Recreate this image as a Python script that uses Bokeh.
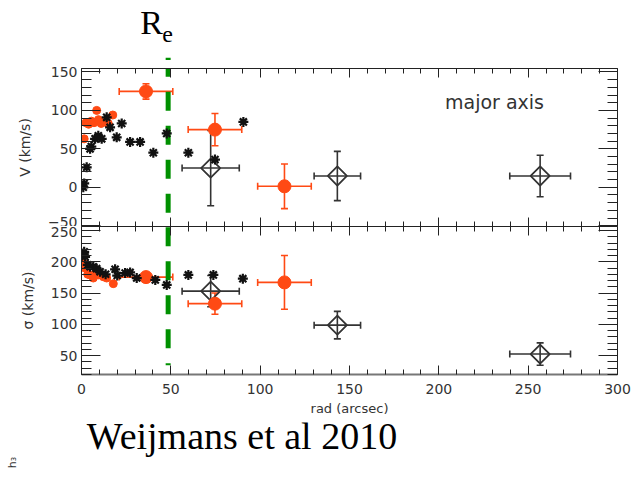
import numpy as np
from bokeh.plotting import figure
from bokeh.models import (ColumnDataSource, Whisker, TeeHead, LinearAxis, Range1d,
                          FixedTicker, Label)
from bokeh.layouts import column, row
from bokeh.embed import file_html
from bokeh.resources import INLINE

# ---------------- data ----------------
r_eff = 48.5

# top panel: rotation velocity V (km/s), major axis
v_star_r = [1.0, 1.5, 2.9, 4.8, 5.5, 7.6, 9.4, 11.3, 14.1, 16.0, 19.7, 22.5, 27.2, 32.8, 40.2, 47.7, 59.8, 74.7, 90.6]
v_star_v = [0, 5, 26, 50, 53, 63, 67, 63, 91, 78, 65, 83, 59, 59, 45, 70, 45, 36, 85]

v_red_r = [1.5, 2.5, 4.0, 5.5, 7.0, 8.5, 9.5, 11.0, 13.0, 15.0, 17.5]
v_red_v = [63, 84, 82, 86, 84, 100, 88, 83, 85, 83, 94]

v_big_r = [36.1, 74.7, 113.6]
v_big_v = [124.7, 75.0, 1.3]
v_big_rerr = [15, 15, 15]
v_big_verr = [10, 21, 29]

v_dia_r = [72.3, 143.2, 256.7]
v_dia_v = [25.0, 14.7, 14.7]
v_dia_rerr = [16, 13, 17]
v_dia_verr = [49, 32, 27]

# bottom panel: velocity dispersion sigma (km/s)
s_star_r = [1.5, 2.0, 3.5, 4.8, 6.6, 8.5, 10.4, 13.5, 18.8, 20.0, 24.4, 27.2, 30.9, 41.3, 47.7, 59.8, 73.8, 90.3]
s_star_s = [216, 208, 195, 192, 192, 189, 184, 180, 188, 178, 182, 183, 174, 171, 163, 179, 179, 173]

s_red_r = [1.0, 2.0, 3.5, 4.8, 6.6, 8.5, 9.4, 12.2, 14.1, 17.8]
s_red_s = [198, 190, 180, 179, 174, 187, 179, 176, 174, 165]

s_big_r = [36.1, 74.7, 113.6]
s_big_s = [175.5, 133.0, 167.0]
s_big_rerr = [15, 15, 15]
s_big_serr = [4, 17, 43]

s_dia_r = [72.3, 143.2, 256.7]
s_dia_s = [153.0, 98.6, 52.3]
s_dia_rerr = [16, 13, 17]
s_dia_serr = [25, 22, 18]

x_ticks = [0, 50, 100, 150, 200, 250, 300]
v_ticks = [-50, 0, 50, 100, 150]
s_ticks = [50, 100, 150, 200, 250]

# ---------------- styling ----------------
RED = "#ff4a14"
BLK = "#111111"
DIA = "#333333"
GREEN = "#009000"
AX = "#222222"
TICKFONT = "DejaVu Sans"
BASE_SHIFT = 0.37   # empirical: label anchor sits this many ems above the alphabetic baseline

W = 635
BL, BR = 81, 18
HEAD_H = 60      # header strip height (page y 0..60)
TOP_Y0 = 68      # page y of top frame edge
SPLIT = 226      # page y of panel boundary
BOT_Y1 = 376     # page y of bottom frame edge
FOOT_Y0 = 418    # page y where the caption strip starts
H = 480

xr = Range1d(0, 300)
v_range = Range1d(-51, 154.5)
s_range = Range1d(19.6, 256.5)


def make_fig(height, yr, btop, bbottom, bl=BL, br=BR, x_range=xr):
    p = figure(width=W, height=height, x_range=x_range, y_range=yr, title=None,
               output_backend="svg", toolbar_location=None,
               x_axis_location=None, y_axis_location=None,
               min_border_left=bl, min_border_right=br,
               min_border_top=btop, min_border_bottom=bbottom)
    p.outline_line_color = None
    p.background_fill_color = "white"
    p.border_fill_color = "white"
    p.grid.grid_line_color = None
    return p


def hide_labels(ax):
    ax.major_label_text_color = None
    ax.major_label_text_font_size = "1px"
    ax.major_label_standoff = 0


def y_axis(ticks, lo, hi, label, side):
    ax = LinearAxis(ticker=FixedTicker(ticks=ticks, minor_ticks=list(range(lo, hi + 1, 10))),
                    major_tick_in=19, major_tick_out=0, minor_tick_in=10, minor_tick_out=0,
                    axis_line_color=AX, major_tick_line_color=AX, minor_tick_line_color=AX)
    if side == "left":
        ax.axis_label = label
        ax.axis_label_text_font = TICKFONT
        ax.axis_label_text_font_size = "14px"
        ax.axis_label_text_font_style = "normal"
        ax.axis_label_text_color = "#333333"
        ax.axis_label_standoff = 12
        ax.major_label_text_font = TICKFONT
        ax.major_label_text_font_size = "14px"
        ax.major_label_text_color = "#333333"
        ax.major_label_standoff = 4
    else:
        hide_labels(ax)
    return ax


def x_axis(show_labels):
    ax = LinearAxis(ticker=FixedTicker(ticks=x_ticks, minor_ticks=list(range(0, 301, 10))),
                    major_tick_in=9, major_tick_out=0, minor_tick_in=5, minor_tick_out=0,
                    axis_line_color=AX, major_tick_line_color=AX, minor_tick_line_color=AX)
    if show_labels:
        ax.axis_label = "rad (arcsec)"
        ax.axis_label_text_font = TICKFONT
        ax.axis_label_text_font_size = "13px"
        ax.axis_label_text_font_style = "normal"
        ax.axis_label_text_color = "#333333"
        ax.axis_label_standoff = 4
        ax.major_label_text_font = TICKFONT
        ax.major_label_text_font_size = "14px"
        ax.major_label_text_color = "#333333"
        ax.major_label_standoff = 9
        ax.axis_line_color = "#777777"
        ax.axis_line_width = 2
    else:
        hide_labels(ax)
    return ax


def add_errbars(p, xs, ys, xerr, yerr, color):
    src = ColumnDataSource(dict(
        x=xs, y=ys,
        xl=[a - b for a, b in zip(xs, xerr)], xu=[a + b for a, b in zip(xs, xerr)],
        yl=[a - b for a, b in zip(ys, yerr)], yu=[a + b for a, b in zip(ys, yerr)]))
    for dim, base, lo, up in (("height", "x", "yl", "yu"), ("width", "y", "xl", "xu")):
        w = Whisker(source=src, base=base, lower=lo, upper=up, dimension=dim,
                    line_color=color, line_width=1.6,
                    lower_head=TeeHead(size=7, line_color=color, line_width=1.6),
                    upper_head=TeeHead(size=7, line_color=color, line_width=1.6))
        p.add_layout(w)
    return src


def draw_panel(p, star_r, star_y, red_r, red_y, big_r, big_y, big_rerr, big_yerr,
               dia_r, dia_y, dia_rerr, dia_yerr, green_y0, green_y1):
    p.line(x=[r_eff, r_eff], y=[green_y0, green_y1], line_color=GREEN, line_width=5,
           line_dash="19 15", line_cap="butt")
    add_errbars(p, dia_r, dia_y, dia_rerr, dia_yerr, DIA)
    add_errbars(p, big_r, big_y, big_rerr, big_yerr, RED)
    p.scatter(x=dia_r, y=dia_y, marker="square", angle=np.pi / 4, size=13.5,
              fill_color=None, line_color=DIA, line_width=1.8)
    p.scatter(x=big_r, y=big_y, marker="circle", size=13, fill_color=RED, line_color=RED)
    p.scatter(x=red_r, y=red_y, marker="circle", size=8, fill_color=RED, line_color=RED)
    p.scatter(x=star_r, y=star_y, marker="asterisk", size=10, line_color=BLK, line_width=2.2)


def serif_label(x, baseline, size, text, x_offset=0, align="left"):
    return Label(x=x, y=baseline - BASE_SHIFT * size, x_offset=x_offset, text=text,
                 text_font="Liberation Serif", text_font_size=f"{size}px",
                 text_color="black", text_align=align, text_baseline="alphabetic")


# ---------------- header strip (R_e label) ----------------
ph = make_fig(HEAD_H, Range1d(HEAD_H, 0), 0, 0)
ph.line(x=[r_eff, r_eff], y=[57.3, HEAD_H], line_color=GREEN, line_width=5, line_cap="butt")
ph.add_layout(serif_label(r_eff, 35, 34, "R", x_offset=-28))
ph.add_layout(serif_label(r_eff, 43, 24, "e", x_offset=-6))

# ---------------- top panel ----------------
p1 = make_fig(SPLIT - HEAD_H, v_range, TOP_Y0 - HEAD_H, 0)
p1.add_layout(y_axis(v_ticks, -50, 150, "V (km/s)", "left"), "left")
p1.add_layout(y_axis(v_ticks, -50, 150, "", "right"), "right")
p1.add_layout(x_axis(False), "above")
p1.add_layout(x_axis(False), "below")

v_scale = (SPLIT - TOP_Y0) / (v_range.end - v_range.start)
green_top_v = v_range.end + (TOP_Y0 - 57.3) / v_scale
draw_panel(p1, v_star_r, v_star_v, v_red_r, v_red_v, v_big_r, v_big_v, v_big_rerr, v_big_verr,
           v_dia_r, v_dia_v, v_dia_rerr, v_dia_verr, green_top_v, v_range.start - 10)

p1.add_layout(Label(x=413, y=SPLIT - 101, x_units="screen", y_units="screen",
                    text="major axis", text_font=TICKFONT, text_font_size="19px",
                    text_color="#333333", text_align="center", text_baseline="middle"))

# ---------------- bottom panel ----------------
p2 = make_fig(FOOT_Y0 - SPLIT, s_range, 0, FOOT_Y0 - BOT_Y1)
p2.add_layout(y_axis(s_ticks, 20, 250, "σ (km/s)", "left"), "left")
p2.add_layout(y_axis(s_ticks, 20, 250, "", "right"), "right")
p2.add_layout(x_axis(False), "above")
p2.add_layout(x_axis(True), "below")

s_scale = (BOT_Y1 - SPLIT) / (s_range.end - s_range.start)
g0 = s_range.end - (226.7 - SPLIT) / s_scale
g1 = s_range.start + (BOT_Y1 - 366.7) / s_scale
draw_panel(p2, s_star_r, s_star_s, s_red_r, s_red_s, s_big_r, s_big_s, s_big_rerr, s_big_serr,
           s_dia_r, s_dia_s, s_dia_rerr, s_dia_serr, g0, g1)

# ---------------- caption strip (full-width frame in page pixels) ----------------
pf = make_fig(H - FOOT_Y0, Range1d(H, FOOT_Y0), 0, 0, bl=0, br=0, x_range=Range1d(0, W))
pf.add_layout(serif_label(241.5, 450, 38, "Weijmans et al 2010", align="center"))
pf.add_layout(Label(x=12, y=462, text="h₃", text_font=TICKFONT, text_font_size="11px",
                    angle=np.pi / 2, text_color="#333333", text_align="center",
                    text_baseline="middle"))

layout = column(ph, p1, p2, row(pf, spacing=0), spacing=0)
open("out.html", "w").write(file_html(layout, INLINE))
